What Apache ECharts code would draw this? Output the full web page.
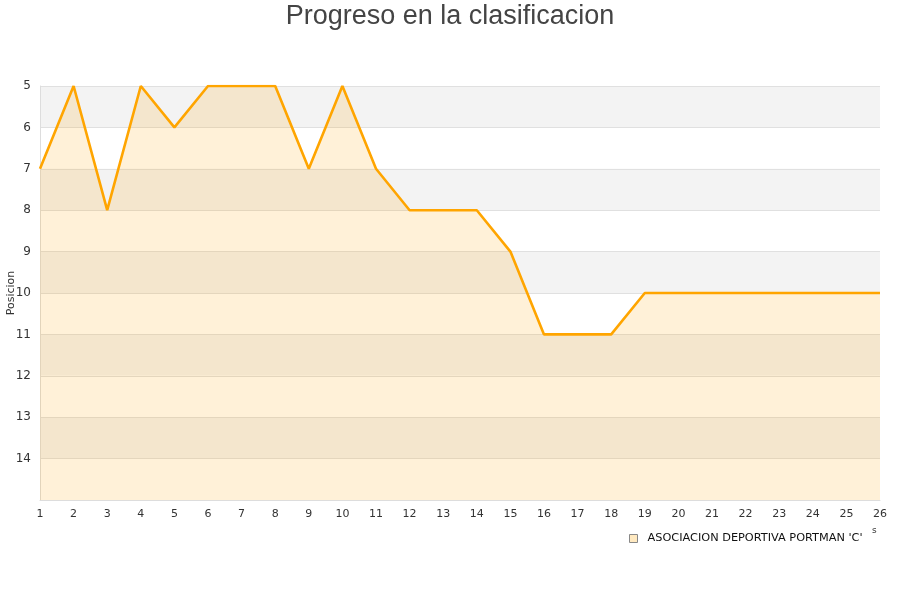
<!DOCTYPE html>
<html>
<head>
<meta charset="utf-8">
<script src="https://cdn.jsdelivr.net/npm/echarts@6/dist/echarts.min.js"></script>
<style>html,body{margin:0;padding:0;background:#fff}#c{width:900px;height:600px}</style>
</head>
<body>
<div id="c"></div>
<script>
const jornadas = ['1','2','3','4','5','6','7','8','9','10','11','12','13','14','15','16','17','18','19','20','21','22','23','24','25','26'];
const posiciones = [7,5,8,5,6,5,5,5,7,5,7,8,8,8,9,11,11,11,10,10,10,10,10,10,10,10];
const seriesName = "ASOCIACION DEPORTIVA PORTMAN 'C'";
const titleText = 'Progreso en la clasificacion';
const yName = 'Posicion';

const chart = echarts.init(document.getElementById('c'), null, {renderer:'canvas'});
chart.setOption({
  animation: false,
  backgroundColor: '#ffffff',
  title: {
    text: titleText, left: 'center', top: -2,
    textStyle: {fontFamily: 'Liberation Sans', fontSize: 27, fontWeight: 'normal', color: '#444'}
  },
  legend: {
    data: [{name: seriesName, icon: 'rect', itemStyle: {color: '#ffe9c0', borderColor: '#888', borderWidth: 1}}],
    left: 624, top: 528, padding: 5, itemWidth: 8, itemHeight: 8,
    textStyle: {fontFamily: 'DejaVu Sans', fontSize: 11.3, color: '#111', padding: [0, 0, 0, 5]}
  },
  graphic: [{type: 'text', left: 872, top: 526, style: {text: 's', fontFamily: 'DejaVu Sans', fontSize: 9, fill: '#333'}}],
  grid: {left: 40, right: 20, top: 86, bottom: 100, containLabel: false, outerBoundsMode: 'none'},
  xAxis: {
    type: 'category', data: jornadas, boundaryGap: false,
    axisLine: {show: true, lineStyle: {color: '#ddd'}},
    axisTick: {show: false},
    axisLabel: {fontFamily: 'DejaVu Sans', fontSize: 11, color: '#333', margin: 9},
    splitLine: {show: false}
  },
  yAxis: {
    type: 'value', inverse: true, min: 5, max: 15, interval: 1,
    name: yName, nameLocation: 'middle', nameGap: 23, nameRotate: 90, nameMoveOverlap: false,
    nameTextStyle: {fontFamily: 'DejaVu Sans', fontSize: 11, color: '#333'},
    axisLine: {show: true, lineStyle: {color: '#ddd'}},
    axisTick: {show: false},
    axisLabel: {fontFamily: 'DejaVu Sans', fontSize: 12, color: '#333', margin: 9,
      formatter: v => v >= 15 ? '' : String(v)},
    splitLine: {show: true, lineStyle: {color: '#e0e0e0'}},
    splitArea: {show: true, areaStyle: {color: ['#f3f3f3', '#ffffff']}}
  },
  series: [{
    name: seriesName, type: 'line', data: posiciones,
    symbol: 'none', smooth: false,
    lineStyle: {color: '#ffa500', width: 2.6},
    itemStyle: {color: '#ffa500'},
    areaStyle: {color: 'rgba(255,165,0,0.22)', origin: 'end'}
  }]
});
</script>
</body>
</html>
